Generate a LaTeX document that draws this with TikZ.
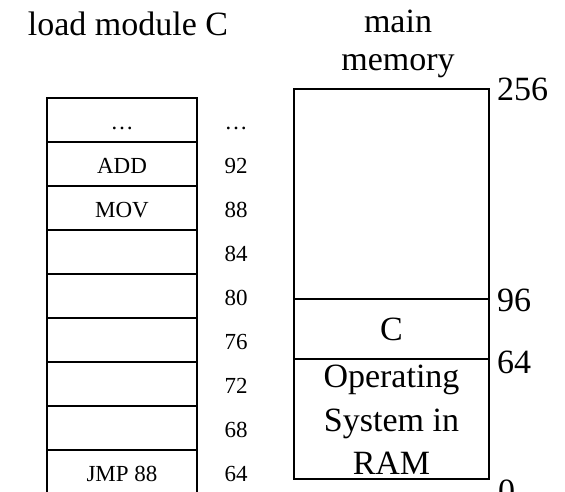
\documentclass[tikz,border=0pt]{standalone}
\usepackage{fontspec}
\setmainfont{Liberation Serif}
\begin{document}
\begin{tikzpicture}[x=1pt,y=-1pt,
  big/.style={font=\fontsize{34}{43}\selectfont},
  small/.style={font=\fontsize{23}{28}\selectfont},
  cellbox/.style={draw,line width=2.4pt,minimum width=150.5pt,minimum height=44pt,inner sep=0pt,outer sep=0pt},
  membox/.style={draw,line width=2.4pt,minimum width=195pt,inner sep=0pt,outer sep=0pt},
  addr/.style={big,anchor=west,inner sep=0pt}]
\useasboundingbox (0,0) rectangle (565,491);
\clip (0,0) rectangle (565,491);

% headings
\node[big,anchor=base] (hload) at (128,35) {load module C};
\node[big,anchor=base] (hmain) at (398,32) {main};
\node[big,anchor=base] (hmem) at (398,70) {memory};

% load module cells, top to bottom
\foreach \i/\txt/\num in {0/\dots/\dots,1/ADD/92,2/MOV/88,3//84,4//80,5//76,6//72,7//68,8/JMP 88/64}{
  \node[cellbox] (cell\i) at (122,120+44*\i) {};
  \node[small,anchor=base] (ctxt\i) at (122,129+44*\i) {\txt};
  \node[small,anchor=base] (cnum\i) at (236,129+44*\i) {\num};
}

% main memory partitions
\node[membox,minimum height=210pt] (free) at (391.5,194) {};
\node[membox,minimum height=60pt] (modc) at (391.5,329) {};
\node[membox,minimum height=120pt] (os) at (391.5,419) {};
\node[big] (modclbl) at (modc.center) {C};
\node[big,anchor=base] (os1) at (391.5,387) {Operating};
\node[big,anchor=base] (os2) at (391.5,431) {System in};
\node[big,anchor=base] (os3) at (391.5,474) {RAM};

% addresses
\node[addr] (a256) at (497,89) {256};
\node[addr] (a96) at (497,300) {96};
\node[addr] (a64) at (497,362) {64};
\node[addr] (a0) at (498,491) {0};
\end{tikzpicture}
\end{document}
